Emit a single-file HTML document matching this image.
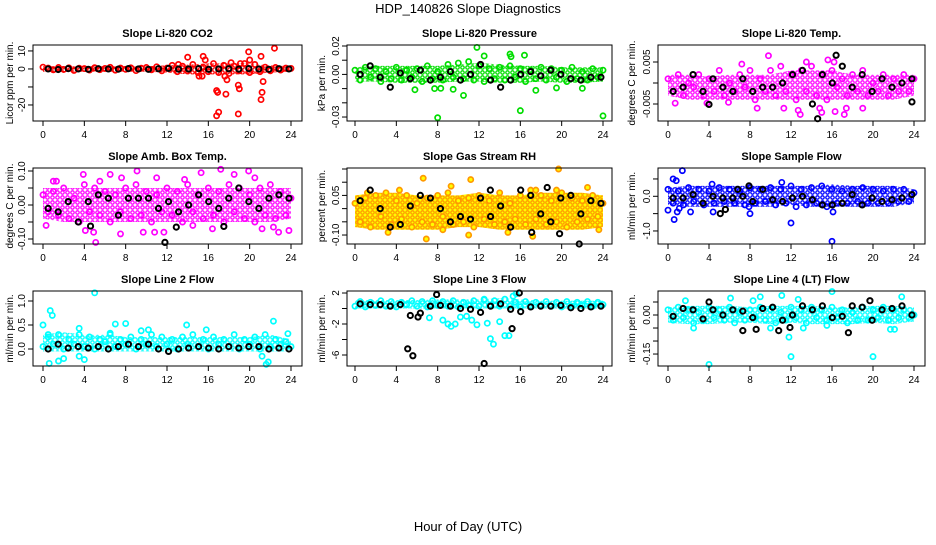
<!DOCTYPE html>
<html><head><meta charset="utf-8"><style>
body{margin:0;background:#fff;}
svg text{font-family:"Liberation Sans",Arial,sans-serif;}
</style></head><body>
<svg id="c" width="936" height="540" viewBox="0 0 936 540">
<defs id="defs"></defs>
<text x="468" y="13" text-anchor="middle" font-size="13">HDP_140826  Slope Diagnostics</text>
<text x="468" y="531" text-anchor="middle" font-size="13">Hour of Day (UTC)</text>
</svg>
<script>
// ---- data arrays ----
const xTicks=[0,4,8,12,16,20,24];
const envHours=[0,2,4,6,8,10,12,14,16,18,20,22,24];
const titles=["Slope Li-820 CO2","Slope Li-820 Pressure","Slope Li-820 Temp.","Slope Amb. Box Temp.","Slope Gas Stream RH","Slope Sample Flow","Slope Line 2 Flow","Slope Line 3 Flow","Slope Line 4 (LT) Flow"];
const yTitles=["Licor ppm per min.","kPa per min.","degrees C per min.","degrees C per min.","percent per min.","ml/min per min.","ml/min per min.","ml/min per min.","ml/min per min."];

const co2Hi=[1.5,1.5,1.5,1.5,1.5,1.5,2,2.5,3,3,3,2,1.5];
const co2Lo=[-1.5,-1.5,-1.5,-1.5,-1.5,-1.5,-2,-3,-3,-3,-3,-2,-1.5];
const co2Band=[1,0.5,-0.5,0.8,-0.3,0.6,-0.8,0.4,0.2,-0.6,0.7,-0.4,0.3,0.9,-0.7,0.5,-0.2,0.6,-0.9,0.4,0.8,-0.5,1.2,-1,0.5,2,-1.5,1.5,-1,2.5,-2,1,-1.5,3,-2,2,-2.5,1.5,-1,3,-2,2.5,-1.5,1,-1,0.8,-0.6,0.5,0.3];
const co2OutH=[14,15.5,15.7,15.4,13.1,16.8,16.9,17,17.7,17.6,17.8,18.9,19,19.1,19.9,20,21.1,21.2,21.1,21.3,22.4,16.8,18.9,15.1,18.2];
const co2OutV=[6.5,7,5,-4,2.5,-12,-13,-24,-14,-4,-6,-9,-11,3,9.5,5,7,-13,-17,-7,11.5,-26,-25,-4,3.5];
const co2Ref=[0,-0.3,0.2,0,-0.2,0.1,0,-0.1,0.2,0,-0.2,0.1,0.3,-0.1,0,0.2,-0.2,0,0.1,-0.1,0.2,0,-0.2,0.1,0];
const co2RefOutH=[]; const co2RefOutV=[];

const presHi=[0.005,0.006,0.006,0.006,0.006,0.007,0.008,0.007,0.006,0.006,0.005,0.005,0.005];
const presLo=[-0.005,-0.005,-0.006,-0.006,-0.006,-0.005,-0.005,-0.006,-0.006,-0.005,-0.006,-0.006,-0.005];
const presBand=[0.003,-0.004,0.005,-0.002,0.004,-0.005,0.002,-0.003,0.005,-0.004,0.003,-0.002,0.004,-0.005,0.006,-0.003,0.002,-0.004,0.007,-0.002,0.008,-0.003,0.009,-0.004,0.006,-0.005,0.004,-0.003,0.005,-0.004,0.006,-0.002,0.004,-0.005,0.003,-0.003,0.005,-0.004,0.004,-0.002,0.003,-0.005,0.005,-0.003,0.002,-0.004,0.004,-0.002,0.003];
const presOutH=[8,10.5,16,24,11.8,15,15.1,16.4,12.5,5.8,9.5,17.5,19.5,22,8.3,7.7];
const presOutV=[-0.0305,-0.0148,-0.0255,-0.0292,0.019,0.0143,0.0125,0.0135,0.013,-0.0108,-0.0105,-0.0112,-0.0095,-0.0098,-0.0098,-0.01];
const presRef=[0,0.006,-0.002,-0.009,0.001,-0.003,0.003,-0.004,-0.002,0.002,-0.004,0,0.007,-0.004,-0.009,-0.004,0,0.002,-0.001,0.003,0,-0.003,-0.004,-0.002,-0.002];
const presRefOutH=[]; const presRefOutV=[];

const tempHi=[0.002,0.002,0.0015,0.002,0.002,0.002,0.003,0.003,0.003,0.002,0.002,0.002,0.002];
const tempLo=[-0.003,-0.004,-0.004,-0.004,-0.004,-0.004,-0.004,-0.004,-0.004,-0.004,-0.004,-0.004,-0.003];
const tempBand=[0.001,-0.002,0.002,-0.003,0,-0.001,0.002,-0.003,0.001,-0.002,0.003,-0.003,0,-0.002,0.002,-0.001,0.003,-0.004,0.001,-0.002,0.003,-0.003,0.004,-0.002,0.002,-0.004,0.003,-0.002,0.004,-0.003,0.002,-0.004,0.003,-0.001,0.001,-0.003,0.002,-0.002,0.003,-0.003,0,-0.002,0.002,-0.003,0.001,-0.002,0.002,-0.002,0.001];
const tempOutH=[9.8,15.6,16.2,13.5,7.2,0.7,3.8,5.9,8.7,11.3,12.7,14.8,15,16.3,17.4,17.2,19,12.9];
const tempOutV=[0.0065,0.0055,0.005,0.005,0.0045,-0.0048,-0.0048,-0.0046,-0.006,-0.006,-0.0065,-0.006,-0.007,-0.0068,-0.006,-0.0075,-0.006,-0.0075];
const tempRef=[-0.002,-0.001,0.002,-0.002,0.001,-0.001,-0.002,0.001,-0.002,-0.001,-0.001,0,0.002,0.003,-0.005,0.002,0,0.004,-0.001,0.002,-0.002,0.001,-0.001,0,0.001];
const tempRefOutH=[4,14.6,16.4,23.8]; const tempRefOutV=[-0.0051,-0.0085,0.0066,-0.0045];

const ambHi=[0.05,0.05,0.05,0.05,0.05,0.05,0.05,0.05,0.05,0.05,0.05,0.05,0.05];
const ambLo=[-0.04,-0.05,-0.05,-0.05,-0.05,-0.05,-0.05,-0.05,-0.05,-0.05,-0.05,-0.05,-0.04];
const ambBand=[0.03,-0.02,0.04,-0.03,0.05,-0.04,0.02,-0.05,0.06,-0.02,0.05,-0.03,0.04,-0.05,0.03,-0.02,0.05,-0.04,0.06,-0.03,0.04,-0.05,0.03,-0.02,0.05,-0.03,0.04,-0.05,0.06,-0.02,0.03,-0.04,0.05,-0.03,0.04,-0.05,0.06,-0.02,0.05,-0.04,0.03,-0.05,0.05,-0.03,0.06,-0.04,0.04,-0.03,0.02];
const ambOutH=[0.3,1,1.3,3.9,4.1,4.9,5.1,6.5,7.5,9.1,11,11.7,15.3,17.2,18.5,19.9,21.2,22.8,23.8,5.5,7.6,9.7,10.8,13.7,14.5,16.4,20.5,22.3];
const ambOutV=[-0.06,0.07,0.07,0.09,-0.075,-0.08,-0.11,0.09,-0.085,0.1,0.08,-0.08,0.095,0.105,0.09,0.1,-0.07,-0.08,-0.075,0.07,0.08,-0.08,-0.08,0.075,-0.06,-0.07,0.08,-0.065];
const ambRef=[-0.01,-0.02,0.01,-0.05,0.01,0.03,0.02,-0.03,0.02,0.02,0.02,-0.01,0.01,-0.02,0,0.03,0.01,-0.01,0.02,0.05,0.01,-0.01,0.02,0.03,0.02];
const ambRefOutH=[11.8,12.9,4.6,17.5]; const ambRefOutV=[-0.11,-0.065,-0.062,-0.063];

const rhHi=[0.05,0.06,0.06,0.05,0.05,0.05,0.06,0.05,0.05,0.06,0.06,0.06,0.05];
const rhLo=[-0.07,-0.08,-0.08,-0.08,-0.08,-0.07,-0.07,-0.08,-0.08,-0.08,-0.08,-0.08,-0.07];
const rhBand=[0.02,-0.05,0.04,-0.07,0.05,-0.03,0.06,-0.06,0.03,-0.04,0.05,-0.07,0.02,-0.05,0.04,-0.06,0.05,-0.03,0.06,-0.06,0.03,-0.05,0.04,-0.07,0.05,-0.04,0.03,-0.06,0.06,-0.05,0.02,-0.04,0.05,-0.06,0.07,-0.04,0.05,-0.06,0.03,-0.05,0.06,-0.07,0.04,-0.05,0.03,-0.04,0.05,-0.03,0.02];
const rhOutH=[6.6,9.3,11.2,4.3,6.9,3.2,11,17.2,19.7,22.5,19.5,1.2,17.5,8.5,14.8,23.6];
const rhOutV=[0.115,0.085,0.11,0.07,-0.115,-0.09,-0.1,-0.105,0.15,0.08,0.07,0.06,0.07,-0.08,-0.09,-0.08];
const rhRef=[0.03,0.07,0,-0.07,-0.06,0.01,0.05,0.04,0,-0.05,-0.03,-0.04,0.04,-0.03,0.01,-0.07,0.07,0.05,-0.02,-0.05,0.04,0.05,-0.02,0.03,0.02];
const rhRefOutH=[13.1,18.6,21.7,19.8,17.1]; const rhRefOutV=[0.07,0.08,-0.134,-0.095,-0.09];

const sfHi=[0.25,0.3,0.3,0.3,0.3,0.3,0.3,0.3,0.35,0.3,0.3,0.3,0.2];
const sfLo=[-0.25,-0.3,-0.3,-0.3,-0.3,-0.3,-0.25,-0.3,-0.3,-0.3,-0.3,-0.3,-0.2];
const sfBand=[0.2,-0.2,0.15,-0.25,0.25,-0.15,0.2,-0.25,0.15,-0.2,0.25,-0.15,0.2,-0.2,0.15,-0.25,0.25,-0.2,0.2,-0.15,0.25,-0.25,0.2,-0.2,0.3,-0.3,0.2,-0.25,0.25,-0.2,0.3,-0.3,0.2,-0.2,0.15,-0.2,0.2,-0.15,0.25,-0.2,0.2,-0.2,0.15,-0.2,0.2,-0.15,0.2,-0.15,0.1];
const sfOutH=[1.4,0.5,0.8,0.9,0.6,2.2,4.3,4.4,7.9,8,12,16,11.1,16.1,0,1.1];
const sfOutV=[0.74,0.5,0.45,-0.45,-0.67,-0.45,0.35,-0.45,-0.3,-0.5,-0.77,-1.3,0.4,-0.45,-0.4,-0.35];
const sfRef=[-0.05,-0.05,0.05,-0.2,0,-0.05,-0.05,0,-0.15,0.2,-0.1,-0.15,-0.05,0,-0.1,-0.25,-0.25,-0.2,0.05,-0.25,-0.05,-0.15,-0.1,-0.05,0.05];
const sfRefOutH=[5.1,5.6,7.9,6.8]; const sfRefOutV=[-0.5,-0.38,0.3,0.2];

const l2Hi=[0.3,0.35,0.3,0.3,0.25,0.25,0.25,0.25,0.25,0.25,0.25,0.3,0.2];
const l2Lo=[-0.05,-0.05,-0.05,-0.05,-0.05,-0.05,-0.05,-0.05,-0.05,-0.05,-0.05,-0.05,-0.05];
const l2Band=[0.05,0.25,0.1,0.3,0,0.2,0.1,0.3,0.05,0.25,0,0.2,0.15,0.3,0.05,0.2,0.1,0.25,0,0.2,0.1,0.3,0.05,0.25,0.1,0.2,0,0.25,0.1,0.3,0.05,0.2,0,0.25,0.1,0.2,0.05,0.3,0,0.2,0.1,0.25,0,0.3,0.05,0.2,0.1,0.15,0.05];
const l2OutH=[0,0.5,0.7,0.9,5,3.5,7,8,9.5,10.2,13.9,15.8,0.6,1.5,2,3.5,4,21.6,21.8,22.3,23.7,21.2,6.5];
const l2OutV=[0.5,0.3,0.8,0.7,1.17,0.43,0.52,0.53,0.38,0.4,0.5,0.4,-0.3,-0.25,-0.2,-0.15,-0.22,-0.32,-0.27,0.58,0.32,-0.15,0.33];
const l2Ref=[0,0.1,0.02,0.05,0.02,0.05,0,0.05,0.1,0.05,0.1,0,-0.05,0,0.02,0.05,0.02,0,0.05,0.02,0.05,0.05,0,0.02,0];
const l2RefOutH=[]; const l2RefOutV=[];

const l3Hi=[1.1,1.1,1.1,1.1,1.2,1.2,1.2,1.3,1.2,1.0,1.0,1.0,1.0];
const l3Lo=[0,0,0,0,0,0,0,0,0,0,0,0,0];
const l3Band=[0.3,0.9,0.2,0.8,0.4,1,0.3,0.9,0.2,0.8,0.5,1,0.3,0.9,0.2,1,0.4,0.9,0.3,1,0.2,0.8,0.4,1,0.3,1.1,0.4,1,0.3,1.2,0.3,0.8,0.2,0.9,0.3,0.8,0.4,0.9,0.3,0.8,0.2,0.9,0.3,0.8,0.4,0.9,0.3,0.8,0.5];
const l3OutH=[8.5,9,9.3,9.7,10.2,10.8,11.3,11.8,12.8,13.1,13.4,14,14.5,14.9,7.2,15.3,15.6,12.5];
const l3OutV=[-1.5,-2,-2.3,-2,-1.1,-1,-1.5,-2.1,-1.9,-3.9,-4.6,-1.7,-3.5,-3.5,-1.2,1.6,1.9,1.2];
const l3Ref=[0.6,0.5,0.5,0.3,0.5,-0.9,-0.6,0.3,0.4,0.3,0,-0.1,-0.5,0.3,0.6,-0.1,-0.4,0.2,0.3,0.3,0.4,0.1,0,0.2,0.3];
const l3RefOutH=[5.1,5.6,7.9,12.5,15.2,15.9,6.1]; const l3RefOutV=[-5.2,-6.1,1.8,-7.1,-2.6,2,-1.1];

const l4Hi=[0.03,0.035,0.035,0.035,0.03,0.035,0.035,0.035,0.03,0.03,0.035,0.035,0.03];
const l4Lo=[-0.03,-0.035,-0.035,-0.03,-0.03,-0.035,-0.03,-0.035,-0.035,-0.035,-0.03,-0.035,-0.025];
const l4Band=[0.02,-0.02,0.03,-0.01,0.02,-0.03,0.01,-0.02,0.03,-0.01,0.02,-0.02,0.03,-0.03,0.01,-0.02,0.02,-0.01,0.03,-0.02,0.02,-0.03,0.01,-0.02,0.03,-0.01,0.02,-0.03,0.03,-0.01,0.02,-0.02,0.03,-0.01,0.02,-0.03,0.01,-0.02,0.03,-0.02,0.02,-0.01,0.03,-0.02,0.02,-0.01,0.02,-0.01,0];
const l4OutH=[4,12,20,16,11.1,9,8.3,1.7,6.1,12.7,2.5,10,11.8,13.2,15.5,21.7,22.1,22.8];
const l4OutV=[-0.19,-0.16,-0.16,0.09,0.075,0.07,0.055,0.055,0.065,0.06,-0.05,-0.05,-0.085,-0.05,-0.04,-0.055,-0.055,0.07];
const l4Ref=[-0.005,0.025,0.02,-0.015,0.02,0,0.02,0.015,-0.01,0.025,0.03,-0.02,0,0.035,0.02,0.035,-0.01,-0.005,0.035,0.03,-0.02,0.02,0.025,0.035,0];
const l4RefOutH=[7.3,8.6,10.8,17.6,19.7,4,11.9]; const l4RefOutV=[-0.06,-0.055,-0.06,-0.068,0.055,0.05,-0.048];

const yTickVals=[[-20,-10,0,10],[-0.03,-0.02,-0.01,0,0.01,0.02],[-0.005,0,0.005],[-0.1,-0.05,0,0.05,0.1],[-0.1,-0.05,0,0.05,0.1,0.15],[-1,-0.5,0,0.5],[0,0.5,1],[-6,-4,-2,0,2],[-0.15,-0.1,-0.05,0,0.05]];
const yTickLabels=[["-20","","0","10"],["-0.03","","","0.00","","0.02"],["-0.005","","0.005"],["-0.10","","0.00","","0.10"],["-0.10","","","0.05","",""],["-1.0","","0.0",""],["0.0","0.5","1.0"],["-6","","-2","","2"],["-0.15","","","0.00",""]];
const yRanges=[[-28.9,13.3],[-0.0328,0.0207],[-0.00905,0.00905],[-0.1147,0.1088],[-0.134,0.1538],[-1.376,0.816],[-0.354,1.208],[-7.42,2.26],[-0.196,0.0923]];

// ---- layout ----
const cols=[{l:33,r:302,x0:43,x24:291,yt:10},{l:347,r:612,x0:355,x24:603,yt:322},{l:658,r:925,x0:668,x24:914,yt:632}];
const rows=[{t:45,b:121},{t:168,b:244},{t:291,b:366}];
const colors=[["#ff0000","none"],["#00dd00","none"],["#ff00ff","none"],["#ff00ff","none"],["#ff9900","#ffff00"],["#0000ff","none"],["#00ffff","none"],["#00ffff","none"],["#00ffff","none"]];
const series=[[co2Band,co2OutH,co2OutV,co2Ref,co2RefOutH,co2RefOutV,co2Hi,co2Lo],[presBand,presOutH,presOutV,presRef,presRefOutH,presRefOutV,presHi,presLo],[tempBand,tempOutH,tempOutV,tempRef,tempRefOutH,tempRefOutV,tempHi,tempLo],[ambBand,ambOutH,ambOutV,ambRef,ambRefOutH,ambRefOutV,ambHi,ambLo],[rhBand,rhOutH,rhOutV,rhRef,rhRefOutH,rhRefOutV,rhHi,rhLo],[sfBand,sfOutH,sfOutV,sfRef,sfRefOutH,sfRefOutV,sfHi,sfLo],[l2Band,l2OutH,l2OutV,l2Ref,l2RefOutH,l2RefOutV,l2Hi,l2Lo],[l3Band,l3OutH,l3OutV,l3Ref,l3RefOutH,l3RefOutV,l3Hi,l3Lo],[l4Band,l4OutH,l4OutV,l4Ref,l4RefOutH,l4RefOutV,l4Hi,l4Lo]];

const NS="http://www.w3.org/2000/svg";
const svg=document.getElementById('c');
const defs=document.getElementById('defs');
function mk(tag,attrs,parent){const e=document.createElementNS(NS,tag);for(const k in attrs)e.setAttribute(k,attrs[k]);(parent||svg).appendChild(e);return e;}

for(let p=0;p<9;p++){
  const C=cols[p%3],R=rows[Math.floor(p/3)];
  const g=mk('g',{});
  
  
  const xs=h=>C.x0+(C.x24-C.x0)*h/24;
  const [ymin,ymax]=yRanges[p];
  const ys=v=>R.b-(v-ymin)/(ymax-ymin)*(R.b-R.t);
  const cx=(C.l+C.r)/2;
  const t=mk('text',{x:cx,y:R.t-8,'text-anchor':'middle','font-size':11,'font-weight':'bold'},g);
  t.textContent=titles[p];
  
  
  const yt=mk('text',{x:0,y:0,'text-anchor':'middle','font-size':10,transform:`translate(${C.yt+3},${(R.t+R.b)/2}) rotate(-90)`},g);
  yt.textContent=yTitles[p];
  
  
  const [band,oh,ov,ref,roh,rov,hi,lo]=series[p];
  const [st,fl]=colors[p];
  const pat=mk('pattern',{id:'pat'+p,width:5,height:5,patternUnits:'userSpaceOnUse'},defs);
  if(fl!=='none') mk('rect',{x:0,y:0,width:5,height:5,fill:fl},pat);
  mk('circle',{cx:2.5,cy:2.5,r:1.7,fill:'none',stroke:st,'stroke-width':1.3},pat);
  let d='';
  envHours.forEach((h,i)=>{d+=(i?'L':'M')+xs(h).toFixed(1)+','+ys(hi[i]).toFixed(1);});
  for(let i=envHours.length-1;i>=0;i--) d+='L'+xs(envHours[i]).toFixed(1)+','+ys(lo[i]).toFixed(1);
  const area=mk('path',{d:d+'Z',fill:'url(#pat'+p+')',stroke:'none'},g);
  
  
  const mg=mk('g',{},g);
  const dot=(h,v,stroke,fill,sw,name)=>{const c=mk('circle',{cx:xs(h),cy:ys(v),r:2.6,fill:fill,stroke:stroke,'stroke-width':sw},mg);
    
    };
  band.forEach((v,i)=>dot(i*24/(band.length-1),v,st,fl,1.7,'series-point'));
  oh.forEach((h,i)=>dot(h,ov[i],st,fl,1.7,'series-outlier'));
  ref.forEach((v,i)=>dot(0.5+i*23.3/(ref.length-1),v,'#000','none',2,'reference-point'));
  roh.forEach((h,i)=>dot(h,rov[i],'#000','none',2,'reference-outlier'));
  const b=mk('rect',{x:C.l,y:R.t,width:C.r-C.l,height:R.b-R.t,fill:'none',stroke:'#000','stroke-width':1},g);
  
  
  mk('line',{x1:xs(0),x2:xs(24),y1:R.b,y2:R.b,stroke:'#000'},g);
  xTicks.forEach(h=>{mk('line',{x1:xs(h),x2:xs(h),y1:R.b,y2:R.b+5,stroke:'#000'},g);
    const l=mk('text',{x:xs(h),y:R.b+17,'text-anchor':'middle','font-size':10},g);l.textContent=h;
    
    });
  const tv=yTickVals[p];
  tv.forEach((v,i)=>{const y=ys(v);mk('line',{x1:C.l-5,x2:C.l,y1:y,y2:y,stroke:'#000'},g);
    const s=yTickLabels[p][i];
    if(s){const l=mk('text',{x:0,y:0,'text-anchor':'middle','font-size':10,transform:`translate(${C.l-8},${y}) rotate(-90)`},g);l.textContent=s;
      
      }});
}
</script>
</body></html>
